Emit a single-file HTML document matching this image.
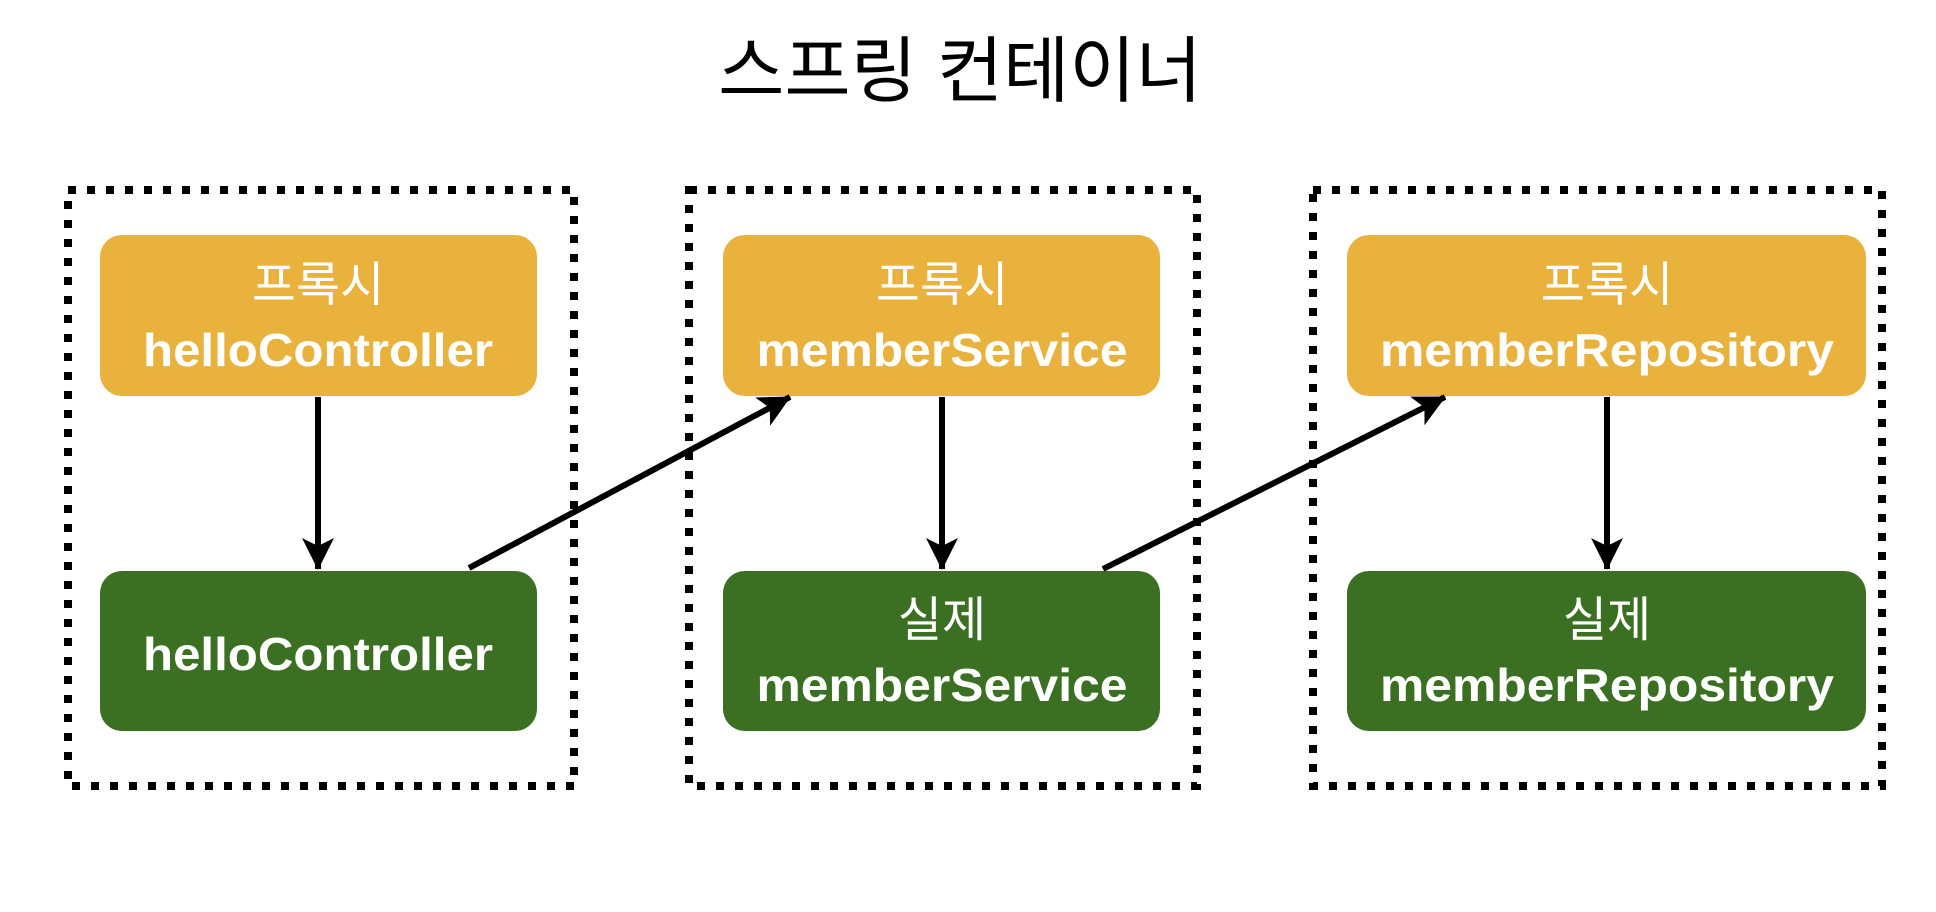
<!DOCTYPE html>
<html><head><meta charset="utf-8"><style>
html,body{margin:0;padding:0;background:#fff;width:1936px;height:912px;overflow:hidden}
svg{display:block}
</style></head><body>
<svg width="1936" height="912" viewBox="0 0 1936 912" xmlns="http://www.w3.org/2000/svg">
<defs>
<marker id="ah" markerUnits="userSpaceOnUse" markerWidth="36" markerHeight="36" refX="31" refY="16" orient="auto">
<path d="M0,0 L32,16 L0,32 L8,16 Z" fill="#000"/>
</marker>
</defs>
<text x="960" y="96" text-anchor="middle" font-family="'Liberation Sans','Noto Sans CJK KR',sans-serif" font-size="72" fill="#000">스프링 컨테이너</text>

<g fill="none" stroke="#000" stroke-width="8" stroke-dasharray="8 11">
<rect x="68" y="190" width="506" height="596"/>
<rect x="689" y="190" width="508" height="596"/>
<rect x="1313" y="190" width="569" height="596"/>
</g>

<g fill="#E9B23D">
<rect x="100" y="235" width="437" height="161" rx="22"/>
<rect x="723" y="235" width="437" height="161" rx="22"/>
<rect x="1347" y="235" width="519" height="161" rx="22"/>
</g>
<g fill="#3B6F21">
<rect x="100" y="571" width="437" height="160" rx="22"/>
<rect x="723" y="571" width="437" height="160" rx="22"/>
<rect x="1347" y="571" width="519" height="160" rx="22"/>
</g>

<g stroke="#000" stroke-width="6" fill="none" marker-end="url(#ah)">
<line x1="318" y1="397" x2="318" y2="569"/>
<line x1="942" y1="397" x2="942" y2="569"/>
<line x1="1607" y1="397" x2="1607" y2="569"/>
<line x1="469" y1="568" x2="790" y2="397"/>
<line x1="1103" y1="569" x2="1445" y2="397"/>
</g>

<g fill="#fff" font-family="'Liberation Sans','Noto Sans CJK KR',sans-serif" text-anchor="middle">
<g font-size="48">
<text x="318" y="301">프록시</text>
<text x="942" y="301">프록시</text>
<text x="1607" y="301">프록시</text>
<text x="942" y="636">실제</text>
<text x="1607" y="636">실제</text>
</g>
<g font-size="46" font-weight="bold">
<text x="318" y="366" textLength="350" lengthAdjust="spacingAndGlyphs">helloController</text>
<text x="942" y="366" textLength="371" lengthAdjust="spacingAndGlyphs">memberService</text>
<text x="1607" y="366" textLength="454" lengthAdjust="spacingAndGlyphs">memberRepository</text>
<text x="318" y="670" textLength="350" lengthAdjust="spacingAndGlyphs">helloController</text>
<text x="942" y="701" textLength="371" lengthAdjust="spacingAndGlyphs">memberService</text>
<text x="1607" y="701" textLength="454" lengthAdjust="spacingAndGlyphs">memberRepository</text>
</g>
</g>
</svg>
</body></html>
